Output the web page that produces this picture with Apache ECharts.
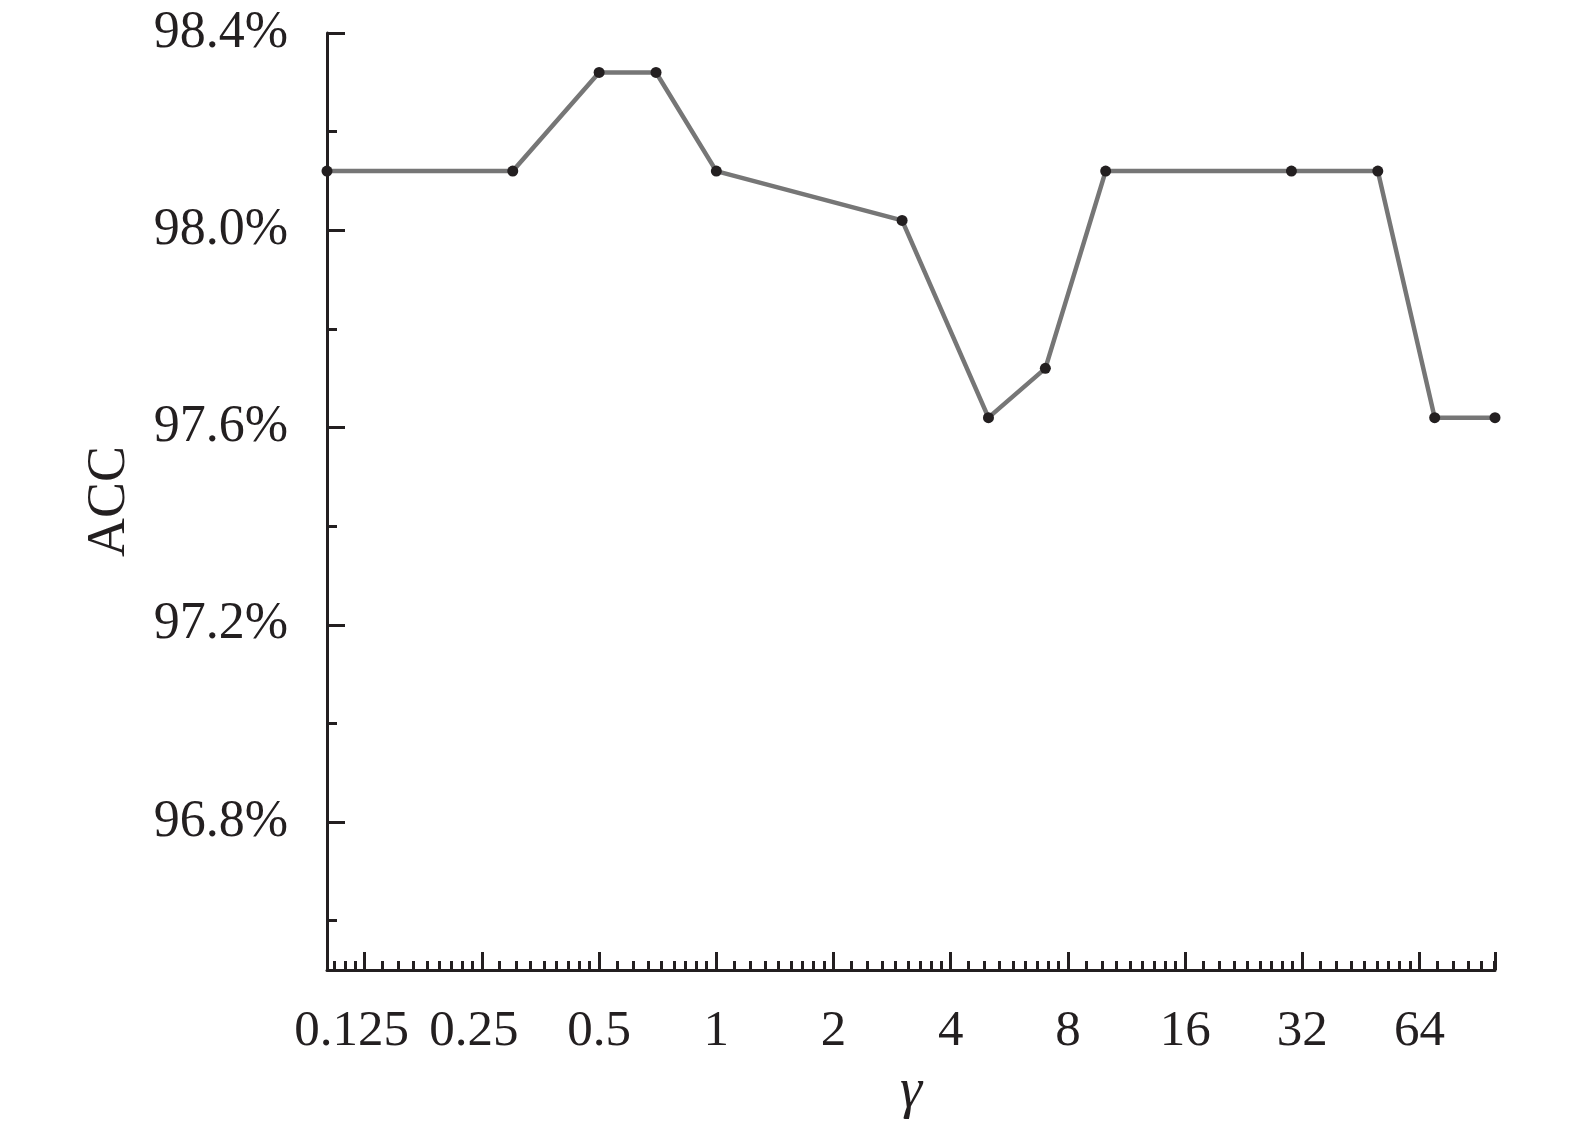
<!DOCTYPE html>
<html>
<head>
<meta charset="utf-8">
<script src="https://cdn.jsdelivr.net/npm/echarts@6/dist/echarts.min.js"></script>
<style>
html,body{margin:0;padding:0;background:#fff;}
#chart{width:1575px;height:1132px;}
</style>
</head>
<body>
<div id="chart"></div>
<script>
// ---- data ----
const gammaValues = [0.1, 0.3, 0.5, 0.7, 1, 3, 5, 7, 10, 30, 50, 70, 100];
const accValues = [98.12, 98.12, 98.32, 98.32, 98.12, 98.02, 97.62, 97.72, 98.12, 98.12, 98.12, 97.62, 97.62];
const yMajorTicks = [96.8, 97.2, 97.6, 98.0, 98.4];
const yMinorTicks = [96.6, 97.0, 97.4, 97.8, 98.2];
const xAxisName = 'γ';
const yAxisName = 'ACC';

const ink = '#231f20';
const fontFamily = '"Liberation Serif", "DejaVu Serif", serif';

const seriesData = gammaValues.map((g, i) => [g, accValues[i]]);

const chart = echarts.init(document.getElementById('chart'), null, {renderer: 'canvas'});
chart.setOption({
  backgroundColor: '#ffffff',
  animation: false,
  grid: {left: 327, right: 80, top: 33, bottom: 162, containLabel: false},
  xAxis: {
    type: 'log',
    logBase: 2,
    min: 0.1,
    max: 100,
    splitNumber: 10,
    name: xAxisName,
    nameLocation: 'middle',
    nameGap: 94,
    nameTextStyle: {fontFamily: fontFamily, fontStyle: 'italic', fontSize: 56, color: ink},
    axisLine: {show: true, onZero: false, lineStyle: {color: ink, width: 3}},
    axisTick: {show: true, inside: true, length: 18, lineStyle: {color: ink, width: 3}},
    minorTick: {show: true, splitNumber: 9, length: 9, lineStyle: {color: ink, width: 3}},
    splitLine: {show: false},
    minorSplitLine: {show: false},
    axisLabel: {
      show: true,
      margin: 36,
      showMinLabel: false,
      showMaxLabel: false,
      fontFamily: fontFamily,
      fontSize: 51,
      color: ink,
      formatter: function (v) {
        const s = String(+v.toFixed(4));
        if (s === '0.125') return '{a|' + s + '}';
        if (s === '0.25') return '{b|' + s + '}';
        return s;
      },
      rich: {
        a: {fontFamily: fontFamily, fontSize: 51, color: ink, padding: [0, 26, 0, 0]},
        b: {fontFamily: fontFamily, fontSize: 51, color: ink, padding: [0, 16, 0, 0]}
      }
    }
  },
  yAxis: [{
    type: 'value',
    min: 96.5,
    max: 98.4,
    name: yAxisName,
    nameLocation: 'middle',
    nameGap: 190,
    nameRotate: 90,
    nameTextStyle: {fontFamily: fontFamily, fontSize: 54, color: ink},
    axisLine: {show: true, onZero: false, lineStyle: {color: ink, width: 3}},
    axisTick: {show: true, inside: true, length: 18, customValues: yMajorTicks, lineStyle: {color: ink, width: 3}},
    splitLine: {show: false},
    axisLabel: {
      show: true,
      margin: 39,
      customValues: yMajorTicks,
      fontFamily: fontFamily,
      fontSize: 52,
      color: ink,
      formatter: function (v) { return v.toFixed(1) + '%'; }
    }
  }, {
    type: 'value',
    position: 'left',
    min: 96.5,
    max: 98.4,
    axisLine: {show: false},
    axisTick: {show: true, inside: true, length: 10, customValues: yMinorTicks, lineStyle: {color: ink, width: 3}},
    axisLabel: {show: false},
    splitLine: {show: false}
  }],
  series: [{
    type: 'line',
    xAxisIndex: 0,
    yAxisIndex: 0,
    data: seriesData,
    clip: false,
    symbol: 'circle',
    symbolSize: 11,
    showAllSymbol: true,
    lineStyle: {color: '#767676', width: 4.5},
    itemStyle: {color: ink, borderWidth: 0},
    emphasis: {disabled: true}
  }]
});
</script>
</body>
</html>
